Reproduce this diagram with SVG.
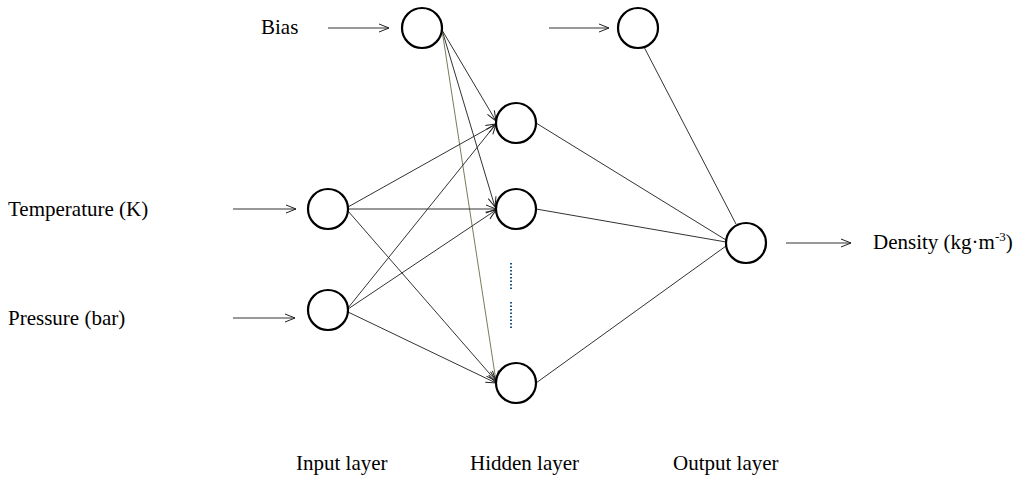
<svg xmlns="http://www.w3.org/2000/svg" width="1024" height="483" viewBox="0 0 1024 483">
<defs><marker id="a" markerWidth="12" markerHeight="10" refX="11" refY="5" orient="auto" markerUnits="userSpaceOnUse"><path d="M1,1 L11,5 L1,9" fill="none" stroke="#222" stroke-width="1"/></marker></defs>
<style>
.n{fill:#fff;stroke:#000;stroke-width:2.2}
.e{stroke:#333;stroke-width:1;fill:none}
.t{font-family:"Liberation Serif",serif;font-size:21px;fill:#000}
</style>
<rect width="1024" height="483" fill="#fff"/>
<g id="connectors">
<line class="e" x1="328" y1="28" x2="389" y2="28" marker-end="url(#a)"/>
<line class="e" x1="549" y1="28" x2="609" y2="28" marker-end="url(#a)"/>
<line class="e" x1="233" y1="209" x2="296" y2="209" marker-end="url(#a)"/>
<line class="e" x1="233" y1="318" x2="295" y2="318" marker-end="url(#a)"/>
<line class="e" x1="786" y1="243" x2="851" y2="243" marker-end="url(#a)"/>
<line class="e" x1="442" y1="30" x2="496" y2="121" marker-end="url(#a)"/>
<line class="e" x1="442" y1="30" x2="495" y2="207" marker-end="url(#a)"/>
<line x1="442" y1="30" x2="496" y2="381" stroke="#7a7a5a" stroke-width="1" marker-end="url(#a)"/>
<line class="e" x1="348" y1="207" x2="496" y2="124" marker-end="url(#a)"/>
<line class="e" x1="348" y1="209" x2="496" y2="209" marker-end="url(#a)"/>
<line class="e" x1="348" y1="211" x2="496" y2="381" marker-end="url(#a)"/>
<line class="e" x1="348" y1="308" x2="496" y2="124" marker-end="url(#a)"/>
<line class="e" x1="348" y1="309" x2="496" y2="210" marker-end="url(#a)"/>
<line class="e" x1="348" y1="312" x2="496" y2="383" marker-end="url(#a)"/>
<line class="e" x1="536" y1="123" x2="726" y2="240"/>
<line class="e" x1="536" y1="209" x2="726" y2="242"/>
<line class="e" x1="536" y1="383" x2="726" y2="246"/>
<line class="e" x1="644" y1="47" x2="736" y2="224"/>
<line x1="511" y1="263" x2="511" y2="290" stroke="#1a4f8a" stroke-width="2" stroke-dasharray="1.5,2"/>
<line x1="511" y1="302" x2="511" y2="328" stroke="#1a4f8a" stroke-width="2" stroke-dasharray="1.5,2"/>
</g>
<g id="bias"><circle class="n" cx="422" cy="28" r="20"/></g>
<g id="bias2"><circle class="n" cx="638" cy="28" r="20"/></g>
<g id="h1"><circle class="n" cx="516" cy="123" r="20"/></g>
<g id="h2"><circle class="n" cx="516" cy="209" r="20"/></g>
<g id="h3"><circle class="n" cx="516" cy="383" r="20"/></g>
<g id="i1"><circle class="n" cx="328" cy="209" r="20"/></g>
<g id="i2"><circle class="n" cx="328" cy="310" r="20"/></g>
<g id="o"><circle class="n" cx="746" cy="243" r="20"/></g>
<g id="labels">
<text class="t" x="261" y="34">Bias</text>
<text class="t" x="8" y="216">Temperature (K)</text>
<text class="t" x="8" y="325">Pressure (bar)</text>
<text class="t" x="873" y="249">Density (kg·m<tspan font-size="13" dy="-8">-3</tspan><tspan dy="8">)</tspan></text>
<text class="t" x="296" y="470">Input layer</text>
<text class="t" x="470" y="470">Hidden layer</text>
<text class="t" x="673" y="470">Output layer</text>
</g>
</svg>
